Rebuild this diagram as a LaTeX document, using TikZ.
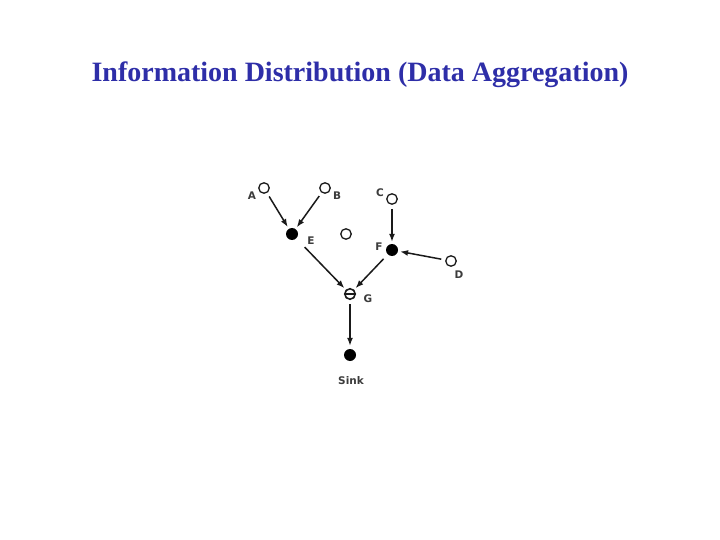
\documentclass[tikz,border=0pt]{standalone}
\usepackage{fontspec}
\setmainfont{Liberation Serif}
\newfontfamily\lblfont{DejaVu Sans}
\usetikzlibrary{arrows.meta}
\definecolor{titleblue}{HTML}{2E2EA8}
\definecolor{ink}{HTML}{1A1A1A}
\begin{document}
\begin{tikzpicture}[x=1pt,y=-1pt,
  opennode/.style={circle,draw=ink,line width=1.3pt,minimum size=10.5pt,inner sep=0pt},
  fullnode/.style={circle,fill=black,minimum size=12pt,inner sep=0pt},
  lbl/.style={font=\lblfont\bfseries\fontsize{10.5}{12}\selectfont,text=ink!85,inner sep=0pt},
  conn/.style={-{Latex[length=8pt,width=6pt]},line width=1.5pt,draw=ink,shorten <=4pt,shorten >=2pt}]
\useasboundingbox (0,0) rectangle (720,540);
\node[font=\bfseries\fontsize{28}{32}\selectfont,text=titleblue] (title) at (360,75) {Information Distribution (Data Aggregation)};
\node[opennode] (A) at (264,188) {};
\node[opennode] (B) at (325,188) {};
\node[opennode] (C) at (392,199) {};
\node[fullnode] (E) at (292,234) {};
\node[opennode] (O) at (346,234) {};
\node[fullnode] (F) at (392,250) {};
\node[opennode] (D) at (451,261) {};
\node[circle,draw=ink,line width=1.6pt,minimum size=10.5pt,inner sep=0pt,path picture={\draw[ink,line width=1.6pt] (path picture bounding box.west) -- (path picture bounding box.east);}] (G) at (350,294) {};
\node[fullnode] (S) at (350,355) {};
\node[lbl] (la) at (252,196) {A};
\node[lbl] (lb) at (337,196) {B};
\node[lbl] (lc) at (380,193) {C};
\node[lbl] (le) at (311,241) {E};
\node[lbl] (lf) at (379,247) {F};
\node[lbl] (ld) at (459,275) {D};
\node[lbl] (lg) at (368,299) {G};
\node[lbl] (ls) at (351,381) {Sink};
\draw[conn] (A) -- (E);
\draw[conn] (B) -- (E);
\draw[conn] (C) -- (F);
\draw[conn] (D) -- (F);
\draw[conn,shorten <=12pt] (E) -- (G);
\draw[conn,shorten <=6pt] (F) -- (G);
\draw[conn,shorten <=4pt,shorten >=3pt] (G) -- (S);
\end{tikzpicture}
\end{document}
